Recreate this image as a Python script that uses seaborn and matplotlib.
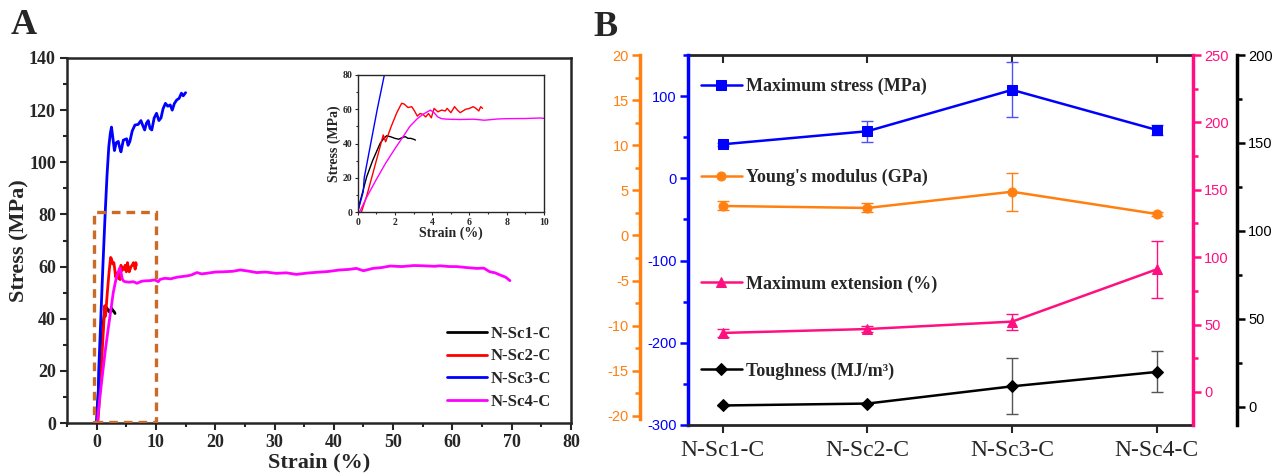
import numpy as np
import pandas as pd
import matplotlib
matplotlib.use("Agg")
import matplotlib.pyplot as plt
from matplotlib.patches import Rectangle
from matplotlib.ticker import MultipleLocator
import seaborn as sns

# ---- panel A: stress-strain curves (strain in %, stress in MPa) ----
sc1_strain = [0, 0.1, 0.25, 0.48, 0.8, 1.2, 1.4, 1.55, 1.75, 2.0, 2.2, 2.4, 2.55, 2.7, 2.85, 3.0, 3.1]
sc1_stress = [0, 5, 11, 20.5, 30, 40, 43, 44.5, 44, 43, 42.5, 43.5, 44, 43, 43, 42.5, 42]

sc2_strain = [0.2, 0.5, 0.8, 1.1, 1.37, 1.5, 1.8, 2.1, 2.36, 2.5, 2.7, 2.9, 3.05, 3.2, 3.35, 3.5,
              3.65, 3.8, 3.95, 4.1, 4.3, 4.5, 4.7, 4.8, 5.0, 5.2, 5.35, 5.5, 5.8, 6.0, 6.2, 6.35,
              6.5, 6.6, 6.7]
sc2_stress = [0, 10, 22, 34, 45, 41, 50, 58, 63.5, 63, 61, 61.5, 59, 56, 57.5, 57,
              55.5, 57.5, 55, 60.5, 58.5, 59.5, 59, 60.5, 58, 61.5, 59.5, 58, 60, 60.5, 61.5, 60.5,
              59, 61.5, 60.5]

sc3_strain = [0, 0.3, 0.35, 0.7, 1.05, 1.43, 1.75, 2.05, 2.3, 2.5, 2.7, 3.0, 3.3, 3.65, 3.9,
              4.1, 4.5, 5.06, 5.3, 5.6, 6.0, 6.46, 7.0, 7.47, 7.8, 8.1, 8.4, 8.7, 9.0, 9.3,
              9.7, 10.1, 10.5, 10.85, 11.2, 11.6, 12.0, 12.4, 12.75, 13.1, 13.5, 13.9, 14.3,
              14.6, 15.0]
sc3_stress = [0, 12, 20, 40, 60, 80, 95, 106, 111, 113.5, 110, 104.5, 107.5, 108, 105.5,
              104, 108.5, 109, 106.5, 108, 112, 114.3, 114.5, 116, 114, 112.4, 115, 116, 113, 112.4,
              117, 118.8, 116, 117, 120.5, 122.6, 121.5, 122, 120, 122.5, 123.9, 124.5, 126.5,
              125.5, 126.7]

sc4_strain = [0.1, 0.5, 1.0, 1.5, 2.0, 2.5, 2.8, 3.2, 3.5, 3.9, 4.1, 4.3, 4.5, 4.8, 5.5, 6.2,
              6.8, 7.5, 8.0, 9.0, 9.8, 10.4, 10.7, 11.5, 12.5, 13.5, 15.2, 16.0, 16.9, 17.7,
              18.5, 20.0, 21.4, 23.0, 24.2, 25.5, 27.0, 28.5, 30.3, 32.0, 33.7, 35.5, 37.1,
              39.0, 41.0, 42.5, 43.8, 45.0, 46.6, 48.0, 49.5, 51.5, 53.5, 55.1, 57.0, 57.9,
              59.5, 60.7, 62.5, 64.1, 65.3, 66.3, 67.2, 68.0, 69.0, 69.7]
sc4_stress = [0, 9, 19, 28.5, 37, 45, 50, 54.5, 57, 59.5, 58, 55.5, 54.5, 54.2, 54, 54.2,
              53.6, 54.3, 54.5, 54.6, 54.9, 54.2, 55.1, 55.5, 55.3, 55.9, 56.4, 56.8, 57.7, 57.2,
              57.4, 57.9, 58, 58.2, 58.7, 58.3, 57.7, 57.9, 57.4, 57.6, 57, 57.5, 57.8,
              58.1, 58.7, 58.9, 59.3, 58.4, 59.3, 59.6, 60.2, 60.0, 60.4, 60.3, 60.1, 60.3,
              60.0, 60, 59.6, 59.3, 59.4, 58, 57.6, 56.8, 55.9, 54.6]

# ---- panel B: summary properties ----
samples = ['N-Sc1-C', 'N-Sc2-C', 'N-Sc3-C', 'N-Sc4-C']
max_stress = [41.4, 57.3, 107.6, 58.8]
max_stress_err = [2, 12.7, 33.5, 5.7]
youngs = [3.27, 3.05, 4.85, 2.38]
youngs_err = [0.5, 0.5, 2.1, 0.2]
extension = [43.8, 46.7, 52.2, 91.0]
extension_err = [3, 2, 6, 21]
toughness = [0.6, 1.7, 11.5, 19.7]
toughness_err = [0.5, 0.5, 16, 11.7]

curves = [(sc1_strain, sc1_stress), (sc2_strain, sc2_stress),
          (sc3_strain, sc3_stress), (sc4_strain, sc4_stress)]
curve_colors = ['black', '#FF0000', '#0000FF', '#FF00FF']

sns.set_style("ticks")
plt.rcParams['font.family'] = ['Liberation Serif', 'DejaVu Serif']
plt.rcParams['font.weight'] = 'bold'
plt.rcParams['axes.labelweight'] = 'bold'
plt.rcParams['axes.unicode_minus'] = False

fig = plt.figure(figsize=(12.79, 4.74), dpi=100)

# ================= panel A =================
ax = fig.add_axes([67 / 1279, 51 / 474, 504 / 1279, 365 / 474])
for (xs, ys), name, col in zip(curves, samples, curve_colors):
    sns.lineplot(x=xs, y=ys, color=col, lw=2, label=name, sort=False,
                 estimator=None, ax=ax)

ax.add_patch(Rectangle((-0.4, 0.5), 10.4, 80.3, fill=False, ls=(0, (2.6, 1.8)),
                       lw=2.4, ec='#CC6A28', zorder=5))

ax.set_xlim(-5, 80)
ax.set_ylim(0, 140)
ax.xaxis.set_major_locator(MultipleLocator(10))
ax.xaxis.set_minor_locator(MultipleLocator(5))
ax.yaxis.set_major_locator(MultipleLocator(20))
ax.yaxis.set_minor_locator(MultipleLocator(10))
ax.tick_params(which='major', length=5, width=1.5, labelsize=13, pad=3)
ax.tick_params(which='minor', length=3, width=1.5)
for s in ax.spines.values():
    s.set_linewidth(1.8)
ax.set_xlabel('Strain (%)', fontsize=16, labelpad=1)
ax.set_ylabel('Stress (MPa)', fontsize=16, labelpad=0)
ax.legend(loc='lower right', bbox_to_anchor=(0.99, -0.005), frameon=False,
          fontsize=12, handlelength=2.4, handletextpad=0.2, labelspacing=0.4)

# inset zoom of the first 10 % strain
ins = fig.add_axes([357.7 / 1279, 262 / 474, 186.3 / 1279, 137 / 474])
for (xs, ys), col in zip(curves, curve_colors):
    sns.lineplot(x=xs, y=ys, color=col, lw=1, sort=False, estimator=None, ax=ins)
ins.set_xlim(0, 10)
ins.set_ylim(0, 80)
ins.xaxis.set_major_locator(MultipleLocator(2))
ins.xaxis.set_minor_locator(MultipleLocator(1))
ins.yaxis.set_major_locator(MultipleLocator(20))
ins.yaxis.set_minor_locator(MultipleLocator(10))
ins.tick_params(which='major', length=2.5, width=0.8, labelsize=7, pad=1.5)
ins.tick_params(which='minor', length=1.5, width=0.8)
for s in ins.spines.values():
    s.set_linewidth(1)
ins.set_xlabel('Strain (%)', fontsize=10, labelpad=0)
ins.set_ylabel('Stress (MPa)', fontsize=10, labelpad=1)

fig.text(24 / 1279, 1 - 26 / 474, 'A', fontsize=26, fontweight='bold', ha='center', va='center')
fig.text(606 / 1279, 1 - 28 / 474, 'B', fontsize=26, fontweight='bold', ha='center', va='center')

# ================= panel B =================
c_blue, c_orange, c_pink, c_black = '#0000FF', '#FF8010', '#FF1080', 'black'
pos = np.arange(len(samples))

axb = fig.add_axes([688 / 1279, 49 / 474, 505 / 1279, 370 / 474])
ax_o = axb.twinx()
ax_m = axb.twinx()
ax_k = axb.twinx()

series = [
    (axb, max_stress, max_stress_err, c_blue, '#5050FF', 's', 'Maximum stress (MPa)', 0.914),
    (ax_o, youngs, youngs_err, c_orange, c_orange, 'o', "Young's modulus (GPa)", 0.668),
    (ax_m, extension, extension_err, c_pink, c_pink, '^', 'Maximum extension (%)', 0.381),
    (ax_k, toughness, toughness_err, c_black, '#555555', 'D', 'Toughness (MJ/m³)', 0.146),
]
for a, vals, err, col, ecol, mk, lab, ly in series:
    a.errorbar(pos, vals, yerr=err, fmt='none', ecolor=ecol, elinewidth=1,
               capsize=4, capthick=1, zorder=2)
    sns.lineplot(x=pos, y=vals, color=col, lw=1.8, marker=mk, markersize=6.5,
                 markeredgecolor=col, label=lab, sort=False, estimator=None, ax=a, zorder=3)
    a.legend(loc='center left', bbox_to_anchor=(0.0, ly), frameon=False,
             prop={'family': 'Liberation Serif', 'weight': 'bold', 'size': 13},
             handlelength=2.3, handletextpad=0.2, borderaxespad=0.3)

axb.set_xlim(-0.24, 3.25)
axb.set_xticks(pos)
axb.set_xticklabels(samples, fontsize=17, fontweight='normal')
axb.tick_params(axis='x', length=6, width=1.5, pad=5)
top = axb.secondary_xaxis('top')
top.set_xticks(pos)
top.set_xticklabels([])
top.tick_params(direction='in', length=6, width=1.5)
top.spines['top'].set_linewidth(2)

axb.set_ylim(-300, 150)
ax_o.set_ylim(-21, 20)
ax_m.set_ylim(-24.5, 250)
ax_k.set_ylim(-10.5, 200)

axb.yaxis.set_major_locator(MultipleLocator(100))
axb.yaxis.set_minor_locator(MultipleLocator(50))
ax_o.yaxis.set_major_locator(MultipleLocator(5))
ax_o.yaxis.set_minor_locator(MultipleLocator(2.5))
ax_m.yaxis.set_major_locator(MultipleLocator(50))
ax_m.yaxis.set_minor_locator(MultipleLocator(25))
ax_k.yaxis.set_major_locator(MultipleLocator(50))
ax_k.yaxis.set_minor_locator(MultipleLocator(25))

# orange axis sits outside the blue one on the left
ax_o.yaxis.tick_left()
ax_o.spines['left'].set_position(('outward', 48 * 72 / 100))
ax_o.spines['left'].set_bounds(-20.3, 20)
ax_k.spines['right'].set_position(('outward', 44 * 72 / 100))

for a in (ax_o, ax_m, ax_k):
    for s in a.spines.values():
        s.set_visible(False)
axb.spines['right'].set_visible(False)
ax_o.spines['left'].set_visible(True)
ax_m.spines['right'].set_visible(True)
ax_k.spines['right'].set_visible(True)

for a, side, col in [(axb, 'left', c_blue), (ax_o, 'left', c_orange),
                     (ax_m, 'right', c_pink), (ax_k, 'right', c_black)]:
    a.spines[side].set_color(col)
    a.spines[side].set_linewidth(2.5)
    a.tick_params(axis='y', which='major', colors=col, length=6, width=1.8,
                  labelsize=10.5, labelfontfamily='Liberation Sans', pad=2)
    a.tick_params(axis='y', which='minor', colors=col, length=3.5, width=1.8)
    for t in a.get_yticklabels():
        t.set_fontweight('normal')
axb.spines['bottom'].set_linewidth(2)
axb.spines['top'].set_visible(False)

fig.savefig('out.png', dpi=100)
